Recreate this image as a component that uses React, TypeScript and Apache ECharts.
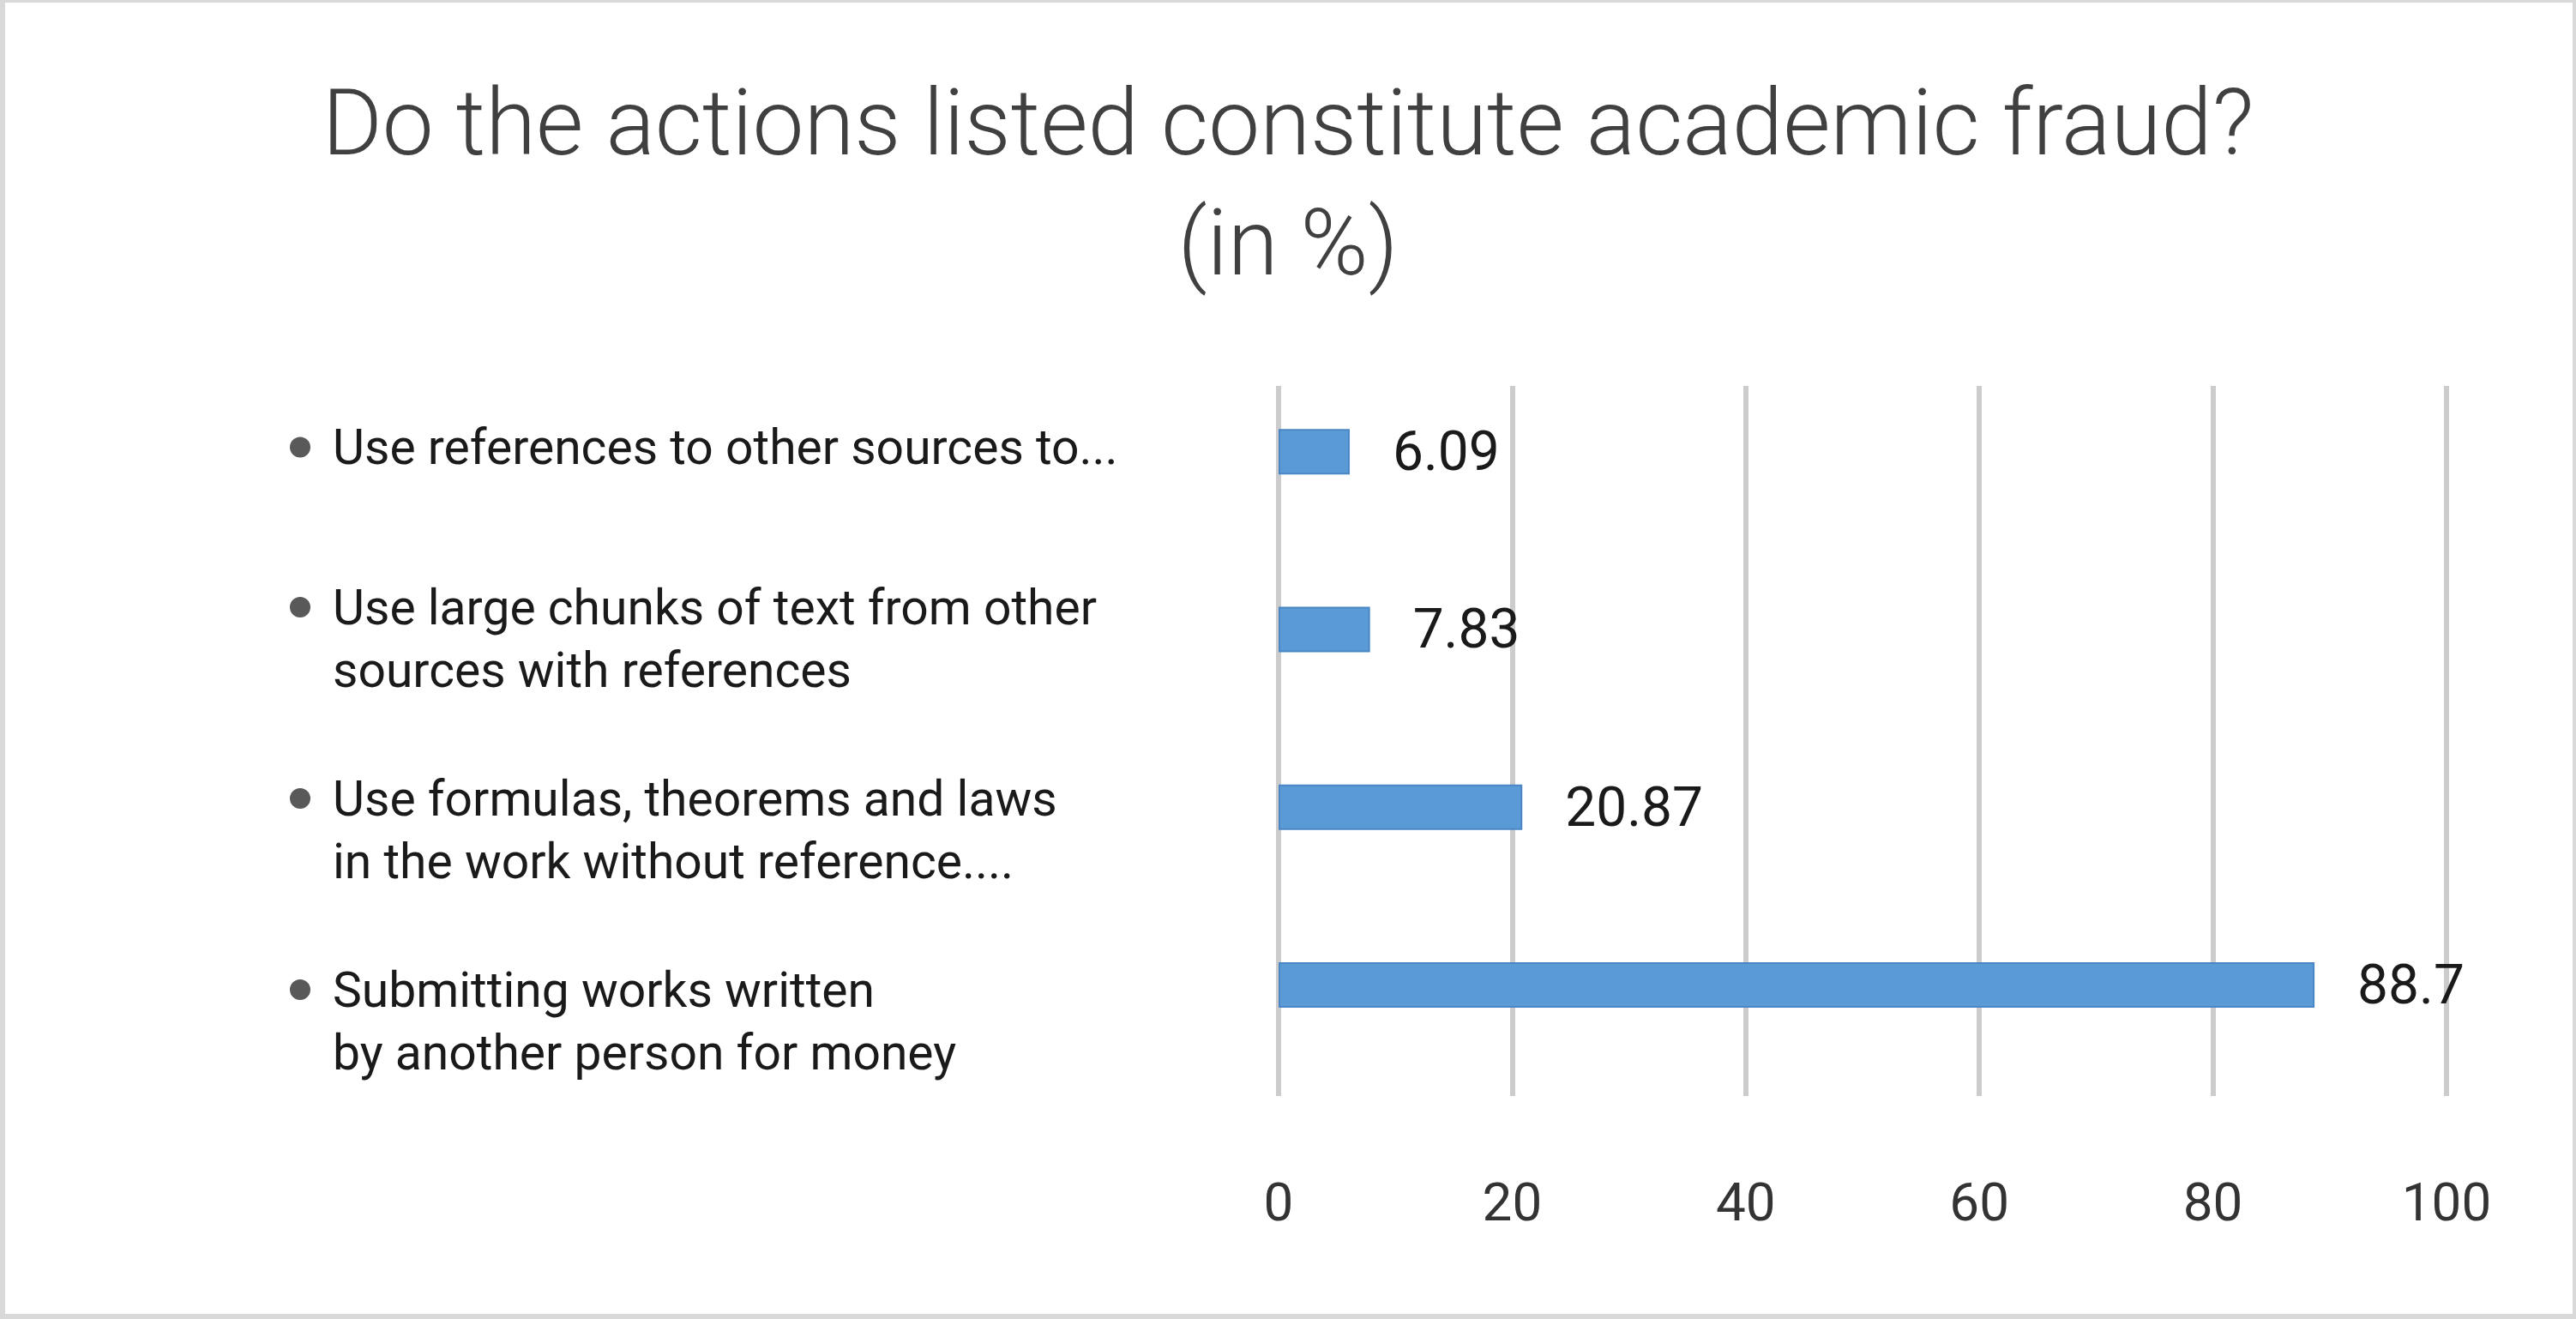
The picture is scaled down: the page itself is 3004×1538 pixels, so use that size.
import { useEffect, useRef } from "react";
import * as echarts from "echarts";

const CATEGORIES = [
  "Use references to other sources to...",
  "Use large chunks of text from other\nsources with references",
  "Use formulas, theorems and laws\nin the work without reference....",
  "Submitting works written\nby another person for money",
];
const VALUES = [6.09, 7.83, 20.87, 88.7];
const X_MIN = 0;
const X_MAX = 100;
const X_STEP = 20;

const FONT = "Roboto, 'Open Sans', sans-serif";

export default function App() {
  const chartRef = useRef<HTMLDivElement>(null);

  useEffect(() => {
    if (!chartRef.current) return;
    const chart = echarts.init(chartRef.current, undefined, { renderer: "svg" });

    chart.setOption({
      animation: false,
      backgroundColor: "#ffffff",
      title: {
        text: "Do the actions listed constitute academic fraud?\n(in %)",
        left: "center",
        top: 68,
        textStyle: {
          fontFamily: FONT,
          fontSize: 107,
          fontWeight: 300,
          lineHeight: 140,
          color: "#404040",
        },
      },
      grid: [
        // gridlines + tick labels
        { left: 1491, right: 151, top: 450, bottom: 260 },
        // bars
        { left: 1491, right: 151, top: 423, bottom: 286 },
        // bulleted category text
        { left: 1491, right: 151, top: 410, bottom: 236 },
      ],
      xAxis: [
        {
          gridIndex: 0,
          type: "value",
          min: X_MIN,
          max: X_MAX,
          interval: X_STEP,
          axisLine: { show: false },
          axisTick: { show: false },
          splitLine: { show: true, lineStyle: { color: "#cccccc", width: 6 } },
          axisLabel: {
            margin: 92,
            fontFamily: FONT,
            fontSize: 62,
            color: "#333333",
          },
        },
        { gridIndex: 1, type: "value", min: X_MIN, max: X_MAX, show: false },
        { gridIndex: 2, type: "value", min: X_MIN, max: X_MAX, show: false },
      ],
      yAxis: [
        { gridIndex: 0, type: "category", data: CATEGORIES, inverse: true, show: false },
        { gridIndex: 1, type: "category", data: CATEGORIES, inverse: true, show: false },
        {
          gridIndex: 2,
          type: "category",
          data: CATEGORIES,
          inverse: true,
          axisLine: { show: false },
          axisTick: { show: false },
          splitLine: { show: false },
          axisLabel: {
            align: "left",
            margin: 1153,
            fontFamily: FONT,
            fontSize: 57,
            lineHeight: 73,
            color: "#1a1a1a",
            formatter: (v: string) =>
              v
                .split("\n")
                .map((line, i) => (i === 0 ? "{dot|}{gap|}" : "{ind|}") + "{t|" + line + "}")
                .join("\n"),
            rich: {
              dot: {
                width: 24,
                height: 24,
                borderRadius: 12,
                backgroundColor: "#595959",
                verticalAlign: "middle",
              },
              gap: { width: 26 },
              ind: { width: 50 },
              t: {
                fontFamily: FONT,
                fontSize: 57,
                lineHeight: 73,
                color: "#1a1a1a",
              },
            },
          },
        },
      ],
      series: [
        {
          type: "bar",
          xAxisIndex: 1,
          yAxisIndex: 1,
          data: VALUES,
          barWidth: 53,
          itemStyle: {
            color: "#5b9bd5",
            borderColor: "#4a86c5",
            borderWidth: 2,
          },
          label: {
            show: true,
            position: "right",
            distance: 50,
            fontFamily: FONT,
            fontSize: 64,
            color: "#1a1a1a",
          },
        },
      ],
    });

    return () => chart.dispose();
  }, []);

  return (
    <div style={{ position: "absolute", left: 0, top: 0, width: "3004px", height: "1538px" }}>
      <div ref={chartRef} style={{ width: "3004px", height: "1538px" }} />
      <div
        style={{
          position: "absolute",
          inset: 0,
          borderStyle: "solid",
          borderColor: "#d9d9d9",
          borderWidth: "3px 4px 6px 6px",
          pointerEvents: "none",
        }}
      />
    </div>
  );
}
